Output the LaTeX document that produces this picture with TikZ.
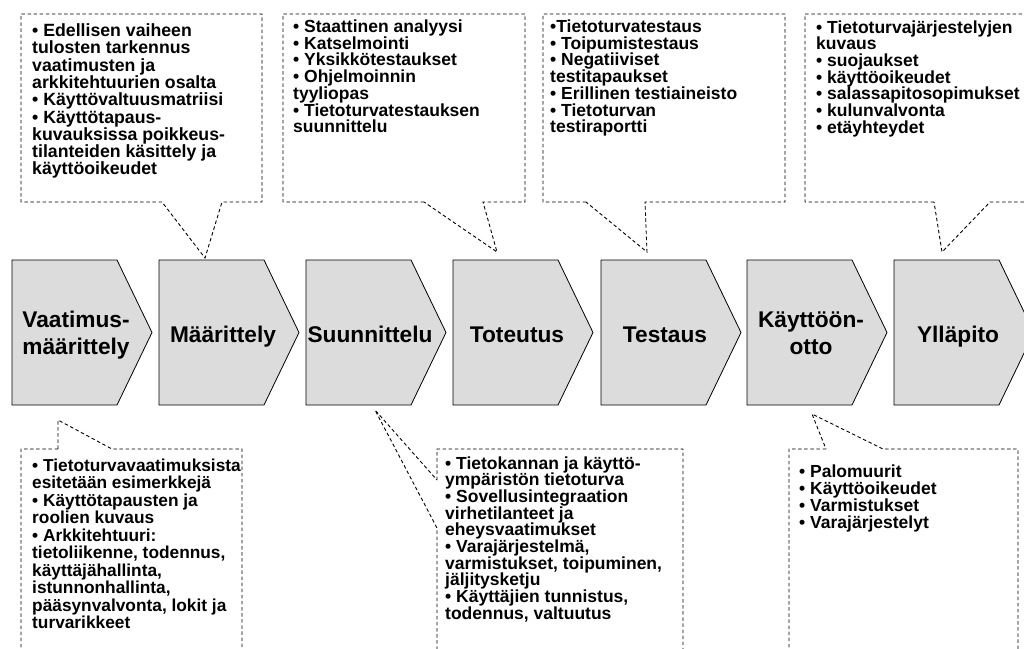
\documentclass[tikz,border=0pt]{standalone}
\usepackage{fontspec}
\setmainfont{Liberation Sans}
\begin{document}
\begin{tikzpicture}[x=1pt,y=-1pt,
  phase/.style={draw=black,line width=0.8pt,fill=chevgray,line join=miter},
  phasetext/.style={font=\fontsize{22.7}{27}\selectfont\bfseries,align=center,inner sep=0pt,anchor=base},
  callout/.style={draw=black,line width=0.9pt,dash pattern=on 3.5pt off 2.6pt},
  boxtext/.style={font=\fontsize{17.5}{16.7}\selectfont\bfseries,align=left,inner sep=0pt,anchor=base west}]
\definecolor{chevgray}{HTML}{DCDCDC}
\useasboundingbox (0,0) rectangle (1024,648);
\begin{scope}
\clip (0,0) rectangle (1024,648);
% chevrons (text anchored at the baseline of its last line)
\foreach \L/\B/\nm/\txt in {12/354.5/p1/{Vaatimus-\\määrittely},159/342/p2/Määrittely,306/342/p3/Suunnittelu,453/342/p4/Toteutus,601/342/p5/Testaus,747/354/p6/{Käyttöön-\\otto},894/342/p7/Ylläpito}{
  \draw[phase] (\L,260) -- ++(105,0) -- ++(35,72.5) -- ++(-35,72.5) -- ++(-105,0) -- cycle;
  \node[phasetext] (\nm) at (\L+64,\B) {\txt};
}
% top callouts
\coordinate (a1) at (205,258);
\coordinate (a2) at (497,252);
\coordinate (a3) at (647,252);
\coordinate (a4) at (942,252);
\draw[callout] (162,202) -- (21,202) -- (21,14) -- (262,14) -- (262,202) -- (222,202) -- (a1) -- cycle;
\draw[callout] (424,202) -- (283,202) -- (283,14) -- (525,14) -- (525,202) -- (483,202) -- (a2) -- cycle;
\draw[callout] (586,202) -- (543,202) -- (543,14) -- (785,14) -- (785,202) -- (645,202) -- (a3) -- cycle;
\draw[callout] (934,202) -- (805,202) -- (805,14) -- (1034,14) -- (1034,202) -- (990,202) -- (a4) -- cycle;
% bottom callouts
\coordinate (b1) at (58,420);
\coordinate (b2) at (375,410);
\coordinate (b3) at (812,414);
\draw[callout] (58,449) -- (21,449) -- (21,660) -- (242,660) -- (242,449) -- (112,449) -- (b1) -- cycle;
\draw[callout] (437,480) -- (437,449) -- (683,449) -- (683,660) -- (437,660) -- (437,528) -- (b2) -- cycle;
\draw[callout] (826,449) -- (789,449) -- (789,660) -- (1018,660) -- (1018,449) -- (883,449) -- (b3) -- cycle;
\end{scope}
% texts (anchored at the baseline of their last line)
\node[boxtext,font=\fontsize{17.7}{17.3}\selectfont\bfseries] (t1) at (32,{36.5+8*17.3}) {• Edellisen vaiheen\\tulosten tarkennus\\vaatimusten ja\\arkkitehtuurien osalta\\• Käyttövaltuusmatriisi\\• Käyttötapaus-\\kuvauksissa poikkeus-\\tilanteiden käsittely ja\\käyttöoikeudet};
\node[boxtext] (t2) at (293,{32.5+6*16.7}) {• Staattinen analyysi\\• Katselmointi\\• Yksikkötestaukset\\• Ohjelmoinnin\\tyyliopas\\• Tietoturvatestauksen\\suunnittelu};
\node[boxtext] (t3) at (550,{32.5+6*16.7}) {•Tietoturvatestaus\\• Toipumistestaus\\• Negatiiviset\\testitapaukset\\• Erillinen testiaineisto\\• Tietoturvan\\testiraportti};
\node[boxtext] (t4) at (816,{33+6*16.7}) {• Tietoturvajärjestelyjen\\kuvaus\\• suojaukset\\• käyttöoikeudet\\• salassapitosopimukset\\• kulunvalvonta\\• etäyhteydet};
\node[boxtext,font=\fontsize{17.3}{17.5}\selectfont\bfseries] (u1) at (32,{471+9*17.5}) {• Tietoturvavaatimuksista\\esitetään esimerkkejä\\• Käyttötapausten ja\\roolien kuvaus\\• Arkkitehtuuri:\\tietoliikenne, todennus,\\käyttäjähallinta,\\istunnonhallinta,\\pääsynvalvonta, lokit ja\\turvarikkeet};
\node[boxtext] (u2) at (445,{469+9*16.7}) {• Tietokannan ja käyttö-\\ympäristön tietoturva\\• Sovellusintegraation\\virhetilanteet ja\\eheysvaatimukset\\• Varajärjestelmä,\\varmistukset, toipuminen,\\jäljitysketju\\• Käyttäjien tunnistus,\\todennus, valtuutus};
\node[boxtext,font=\fontsize{17.5}{17.3}\selectfont\bfseries] (u3) at (799,{477+3*17.3}) {• Palomuurit\\• Käyttöoikeudet\\• Varmistukset\\• Varajärjestelyt};
\end{tikzpicture}
\end{document}
